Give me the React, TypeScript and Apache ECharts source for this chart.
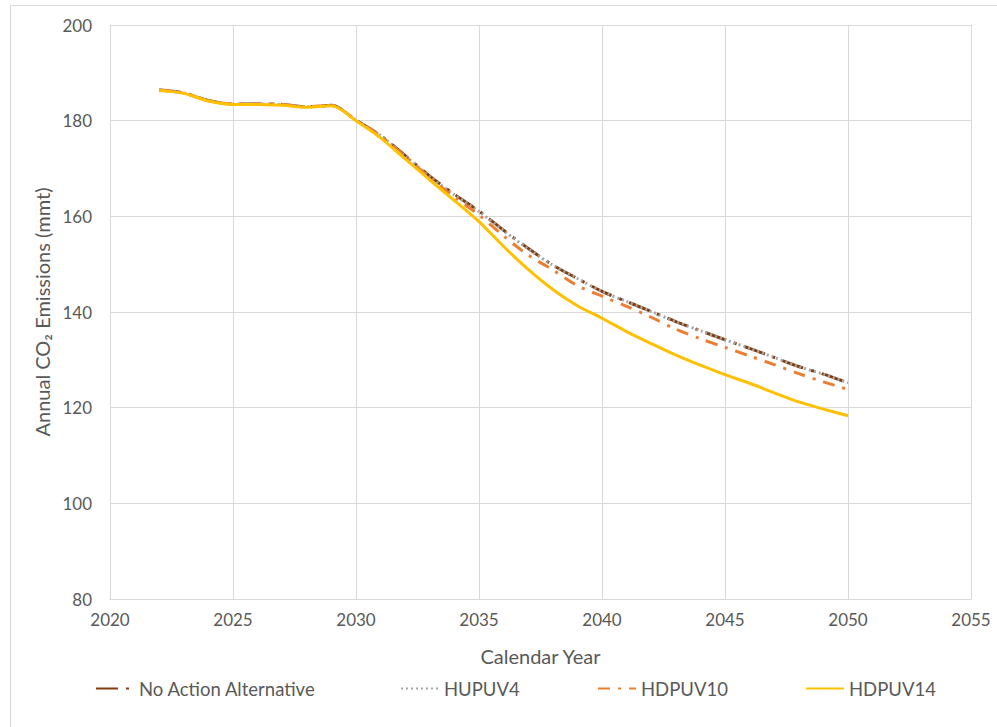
import React, { useEffect, useRef } from "react";
import * as echarts from "echarts";

const years = [2022, 2023, 2024, 2025, 2026, 2027, 2028, 2029, 2030, 2031, 2032, 2033, 2034, 2035, 2036, 2037, 2038, 2039, 2040, 2041, 2042, 2043, 2044, 2045, 2046, 2047, 2048, 2049, 2050];
const noAction = [186.4, 185.8, 184.2, 183.5, 183.5, 183.4, 182.9, 183.2, 180.1, 176.9, 172.7, 168.4, 164.6, 161.1, 157.1, 153.3, 149.8, 147.0, 144.3, 142.2, 140.1, 138.0, 136.1, 134.2, 132.4, 130.5, 128.6, 127.0, 125.2];
const hupuv4 = [186.4, 185.8, 184.2, 183.5, 183.5, 183.4, 182.9, 183.2, 180.1, 176.9, 172.6, 168.3, 164.5, 161.0, 157.0, 153.2, 149.8, 147.0, 144.3, 142.2, 140.1, 138.0, 136.1, 134.2, 132.4, 130.5, 128.6, 127.0, 125.2];
const hdpuv10 = [186.4, 185.8, 184.2, 183.5, 183.5, 183.4, 182.9, 183.2, 180.1, 176.8, 172.5, 168.1, 164.0, 160.3, 155.9, 151.9, 148.8, 145.5, 143.3, 141.2, 138.9, 136.4, 134.4, 132.6, 130.8, 129.0, 127.1, 125.4, 123.8];
const hdpuv14 = [186.3, 185.7, 184.1, 183.4, 183.4, 183.2, 182.8, 183.1, 180.0, 176.4, 172.0, 167.6, 163.3, 158.9, 153.7, 148.9, 144.7, 141.3, 138.7, 135.9, 133.4, 131.0, 128.9, 126.9, 125.1, 123.1, 121.2, 119.7, 118.3];

const seriesNames = ["No Action Alternative", "HUPUV4", "HDPUV10", "HDPUV14"];
const seriesData = [noAction, hupuv4, hdpuv10, hdpuv14];
const seriesColors = ["#843C0C", "#A5A5A5", "#ED7D31", "#FFC000"];
const seriesDash: any[] = [[22, 8, 3, 8], [2, 3], [12, 8, 3, 8], "solid"];
const legendLefts = [95, 400, 597, 805];

const FONT = "Lato";
const TXT = "#595959";
const GRIDC = "#D9D9D9";

export default function App() {
  const ref = useRef<HTMLDivElement>(null);
  useEffect(() => {
    if (!ref.current) return;
    const chart = echarts.init(ref.current, undefined, { renderer: "svg" });
    const option: any = {
      animation: false,
      backgroundColor: "#FFFFFF",
      textStyle: { fontFamily: FONT, color: TXT },
      graphic: [
        {
          type: "rect",
          shape: { x: 10.5, y: 5.5, width: 1000, height: 740 },
          style: { fill: "none", stroke: GRIDC, lineWidth: 1 },
          silent: true,
          z: -1,
        },
      ],
      grid: { left: 110, top: 25, right: 26, bottom: 128, containLabel: false },
      legend: seriesNames.map((n, i) => ({
        data: [n],
        left: legendLefts[i],
        top: 679,
        padding: 0,
        itemWidth: 38,
        itemHeight: 14,
        itemStyle: { opacity: 0 },
        textStyle: { fontFamily: FONT, fontSize: 18.5, color: TXT },
        selectedMode: false,
      })),
      xAxis: {
        type: "value",
        min: 2020,
        max: 2055,
        interval: 5,
        name: "Calendar Year",
        nameLocation: "middle",
        nameGap: 47,
        nameTextStyle: { fontFamily: FONT, fontSize: 20, color: TXT },
        axisLine: { show: true, lineStyle: { color: GRIDC, width: 1 } },
        axisTick: { show: false },
        axisLabel: {
          fontFamily: FONT,
          fontSize: 17,
          color: TXT,
          margin: 12,
          formatter: (v: number) => String(v),
        },
        splitLine: { show: true, lineStyle: { color: GRIDC, width: 1 } },
      },
      yAxis: {
        type: "value",
        min: 80,
        max: 200,
        interval: 20,
        name: "Annual CO₂ Emissions (mmt)",
        nameLocation: "middle",
        nameGap: 57,
        nameTextStyle: { fontFamily: FONT, fontSize: 20, color: TXT },
        axisLine: { show: true, lineStyle: { color: GRIDC, width: 1 } },
        axisTick: { show: false },
        axisLabel: { fontFamily: FONT, fontSize: 17, color: TXT, margin: 18 },
        splitLine: { show: true, lineStyle: { color: GRIDC, width: 1 } },
      },
      series: seriesNames.map((n, i) => ({
        name: n,
        type: "line",
        data: years.map((y, j) => [y, seriesData[i][j]]),
        smooth: 0.3,
        symbol: "none",
        showSymbol: false,
        color: seriesColors[i],
        lineStyle: {
          color: seriesColors[i],
          width: 3,
          type: seriesDash[i],
          cap: "butt",
        },
        z: 2 + i,
      })),
    };
    chart.setOption(option);
    return () => chart.dispose();
  }, []);
  return (
    <div
      ref={ref}
      style={{ position: "fixed", left: 0, top: 0, width: 997, height: 727 }}
    />
  );
}
